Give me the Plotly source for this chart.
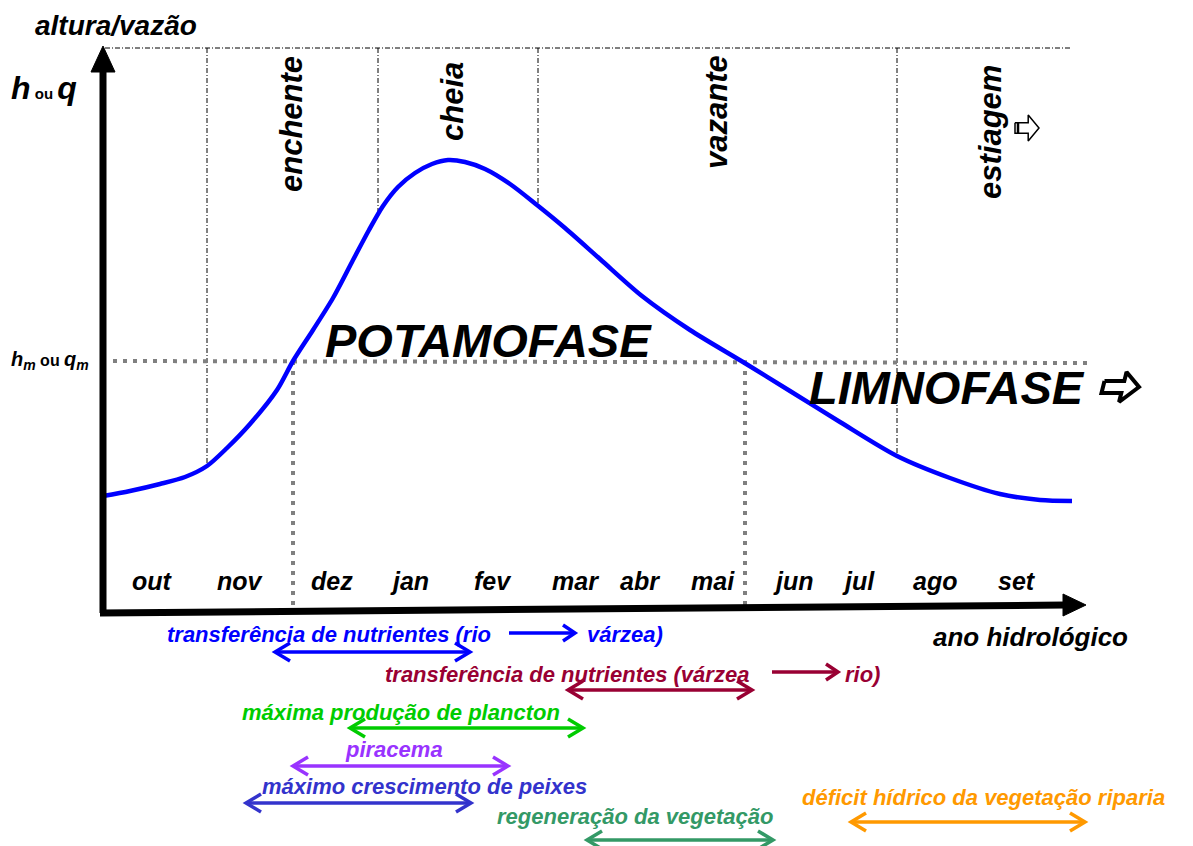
import plotly.graph_objects as go

# -------------------------------------------------------
# Data (x: position along the hydrological year, y: stage; y axis runs downward)
# -------------------------------------------------------

curve_x = [103, 130, 160, 185, 207, 227, 250, 277, 293, 313, 333, 352, 369, 383,
           398, 415, 432, 448, 465, 485, 510, 537, 565, 600, 642, 690, 743, 790,
           840, 897, 950, 1000, 1040, 1072]
curve_y = [496, 491, 484, 477, 466, 448, 424, 390, 361, 330, 298, 262, 230, 206,
           187, 173, 164, 160, 162, 169, 184, 205, 228, 259, 296, 330, 362, 391,
           422, 456, 478, 494, 500, 501]

months = ["out", "nov", "dez", "jan", "fev", "mar", "abr", "mai", "jun", "jul", "ago", "set"]
month_x = [152, 240, 332, 409, 493, 575, 640, 713, 793, 858, 935, 1017]

phases = ["enchente", "cheia", "vazante", "estiagem"]
phase_x = [291, 452, 716, 990]
phase_y = [124, 102, 112, 132]

bound_x = [207, 378, 538, 897]
bound_end = [466, 214, 206, 456]

hm_level = 361
hm_rise = 293
hm_fall = 745

events = [
    "transferência de nutrientes (rio",
    "transferência de nutrientes (várzea",
    "máxima produção de plancton",
    "piracema",
    "máximo crescimento de peixes",
    "regeneração da vegetação",
    "déficit hídrico da vegetação riparia",
]
event_start = [275, 568, 350, 293, 246, 587, 851]
event_end = [470, 752, 583, 508, 471, 773, 1085]

event_colors = ["#0000FF", "#990033", "#00CC00", "#9933FF", "#3333CC", "#339966", "#FF9900"]
event_row = [652, 690, 728, 766, 803, 840, 822]
label_x = [165, 383, 240, 343, 260, 495, 800]
label_y = [634, 674, 712, 749, 786, 816, 797]

FONT = "Liberation Sans, Arial, sans-serif"


def bi(t):
    return "<b><i>" + t + "</i></b>"


def chevron_arrow(x0, x1, y, both=True, hx=15, hy=9):
    xs = [x0, x1, None, x1 - hx, x1, x1 - hx]
    ys = [y, y, None, y - hy, y, y + hy]
    if both:
        xs += [None, x0 + hx, x0, x0 + hx]
        ys += [None, y - hy, y, y + hy]
    return xs, ys


def hollow_arrow(cx, cy, w, h, slant=0.0):
    # outline of a block arrow pointing right, centred on (cx, cy)
    bx = [-w / 2, w * 0.05, w * 0.05, w / 2, w * 0.05, w * 0.05, -w / 2, -w / 2]
    by = [-h * 0.2, -h * 0.2, -h / 2, 0, h / 2, h * 0.2, h * 0.2, -h * 0.2]
    return [cx + x - slant * y for x, y in zip(bx, by)], [cy + y for y in by]


fig = go.Figure()

# phase boundaries and top line (dash-dot)
dashdot = "5px,2px,1px,2px"
fig.add_trace(go.Scatter(x=[105, 1070], y=[48, 48], mode="lines",
                         line=dict(color="black", width=1, dash=dashdot)))
for bx, be in zip(bound_x, bound_end):
    fig.add_trace(go.Scatter(x=[bx, bx], y=[48, be], mode="lines",
                             line=dict(color="black", width=1, dash=dashdot)))

# mean level lines
gray = dict(color="#808080", width=4, dash="4px,6px")
fig.add_trace(go.Scatter(x=[113, 1090], y=[hm_level, hm_level + 2], mode="lines", line=gray))
fig.add_trace(go.Scatter(x=[hm_rise, hm_rise], y=[hm_level, 612], mode="lines", line=gray))
fig.add_trace(go.Scatter(x=[hm_fall, hm_fall], y=[hm_level, 605], mode="lines", line=gray))

# hydrograph
fig.add_trace(go.Scatter(x=curve_x, y=curve_y, mode="lines",
                         line=dict(color="#0000FF", width=4.5, shape="spline", smoothing=0.8)))

# axes
fig.add_trace(go.Scatter(x=[103, 103], y=[613, 70], mode="lines",
                         line=dict(color="black", width=7)))
fig.add_trace(go.Scatter(x=[91, 103, 115, 91], y=[72, 46, 72, 72], mode="lines",
                         fill="toself", fillcolor="black", line=dict(color="black", width=1)))
fig.add_trace(go.Scatter(x=[100, 1065], y=[613, 605], mode="lines",
                         line=dict(color="black", width=7)))
fig.add_trace(go.Scatter(x=[1063, 1086, 1063, 1063], y=[594, 605, 616, 594], mode="lines",
                         fill="toself", fillcolor="black", line=dict(color="black", width=1)))

# phase arrows
xs, ys = hollow_arrow(1121, 387, 36, 30, slant=0.25)
fig.add_trace(go.Scatter(x=xs, y=ys, mode="lines", line=dict(color="black", width=4)))
xs, ys = hollow_arrow(1027, 128, 24, 26)
fig.add_trace(go.Scatter(x=xs, y=ys, mode="lines", line=dict(color="black", width=1.5)))
fig.add_trace(go.Scatter(x=[1018, 1018], y=[122, 134], mode="lines",
                         line=dict(color="black", width=2.5)))

# event arrows
for s, e, r, c in zip(event_start, event_end, event_row, event_colors):
    xs, ys = chevron_arrow(s, e, r)
    fig.add_trace(go.Scatter(x=xs, y=ys, mode="lines", line=dict(color=c, width=3.5)))

# inline arrows inside the transfer labels
xs, ys = chevron_arrow(509, 575, 633, both=False, hx=12, hy=8)
fig.add_trace(go.Scatter(x=xs, y=ys, mode="lines", line=dict(color=event_colors[0], width=3.5)))
xs, ys = chevron_arrow(772, 838, 672, both=False, hx=12, hy=8)
fig.add_trace(go.Scatter(x=xs, y=ys, mode="lines", line=dict(color=event_colors[1], width=3.5)))

ann = []


def txt(x, y, t, size, color="black", xanchor="center", angle=0, family=FONT):
    ann.append(dict(x=x, y=y, xref="x", yref="y", text=t, showarrow=False,
                    xanchor=xanchor, yanchor="middle", textangle=angle,
                    font=dict(family=family, size=size, color=color)))


txt(33, 25, bi("altura/vazão"), 28, xanchor="left")
txt(9, 88, '<b><i><span style="font-size:32px">h</span></i>'
           '<span style="font-size:15px"> ou </span>'
           '<i><span style="font-size:32px">q</span></i></b>', 32, xanchor="left")
txt(9, 360, '<b><i>h<sub>m</sub></i><span style="font-size:16px"> ou </span>'
            '<i>q<sub>m</sub></i></b>', 20, xanchor="left")

for p, px_, py_ in zip(phases, phase_x, phase_y):
    txt(px_, py_, bi(p), 31, angle=-90)

txt(488, 340, bi("POTAMOFASE"), 47)
txt(807, 387, bi("LIMNOFASE"), 47, xanchor="left")

for m, mx in zip(months, month_x):
    txt(mx, 581, bi(m), 25)
txt(1030, 637, bi("ano hidrológico"), 26)

for t, lx, ly, c in zip(events, label_x, label_y, event_colors):
    txt(lx, ly, bi(t), 22, color=c, xanchor="left")
txt(585, 634, bi("várzea)"), 22, color=event_colors[0], xanchor="left")
txt(843, 674, bi("rio)"), 22, color=event_colors[1], xanchor="left")

# the page body adds an 8px margin, so the axes start 8 units in
fig.update_layout(
    width=1185,
    height=838,
    margin=dict(l=0, r=0, t=0, b=0),
    showlegend=False,
    plot_bgcolor="white",
    paper_bgcolor="white",
    xaxis=dict(range=[8, 1193], visible=False),
    yaxis=dict(range=[846, 8], visible=False),
    annotations=ann,
)

fig.write_html("out.html")
